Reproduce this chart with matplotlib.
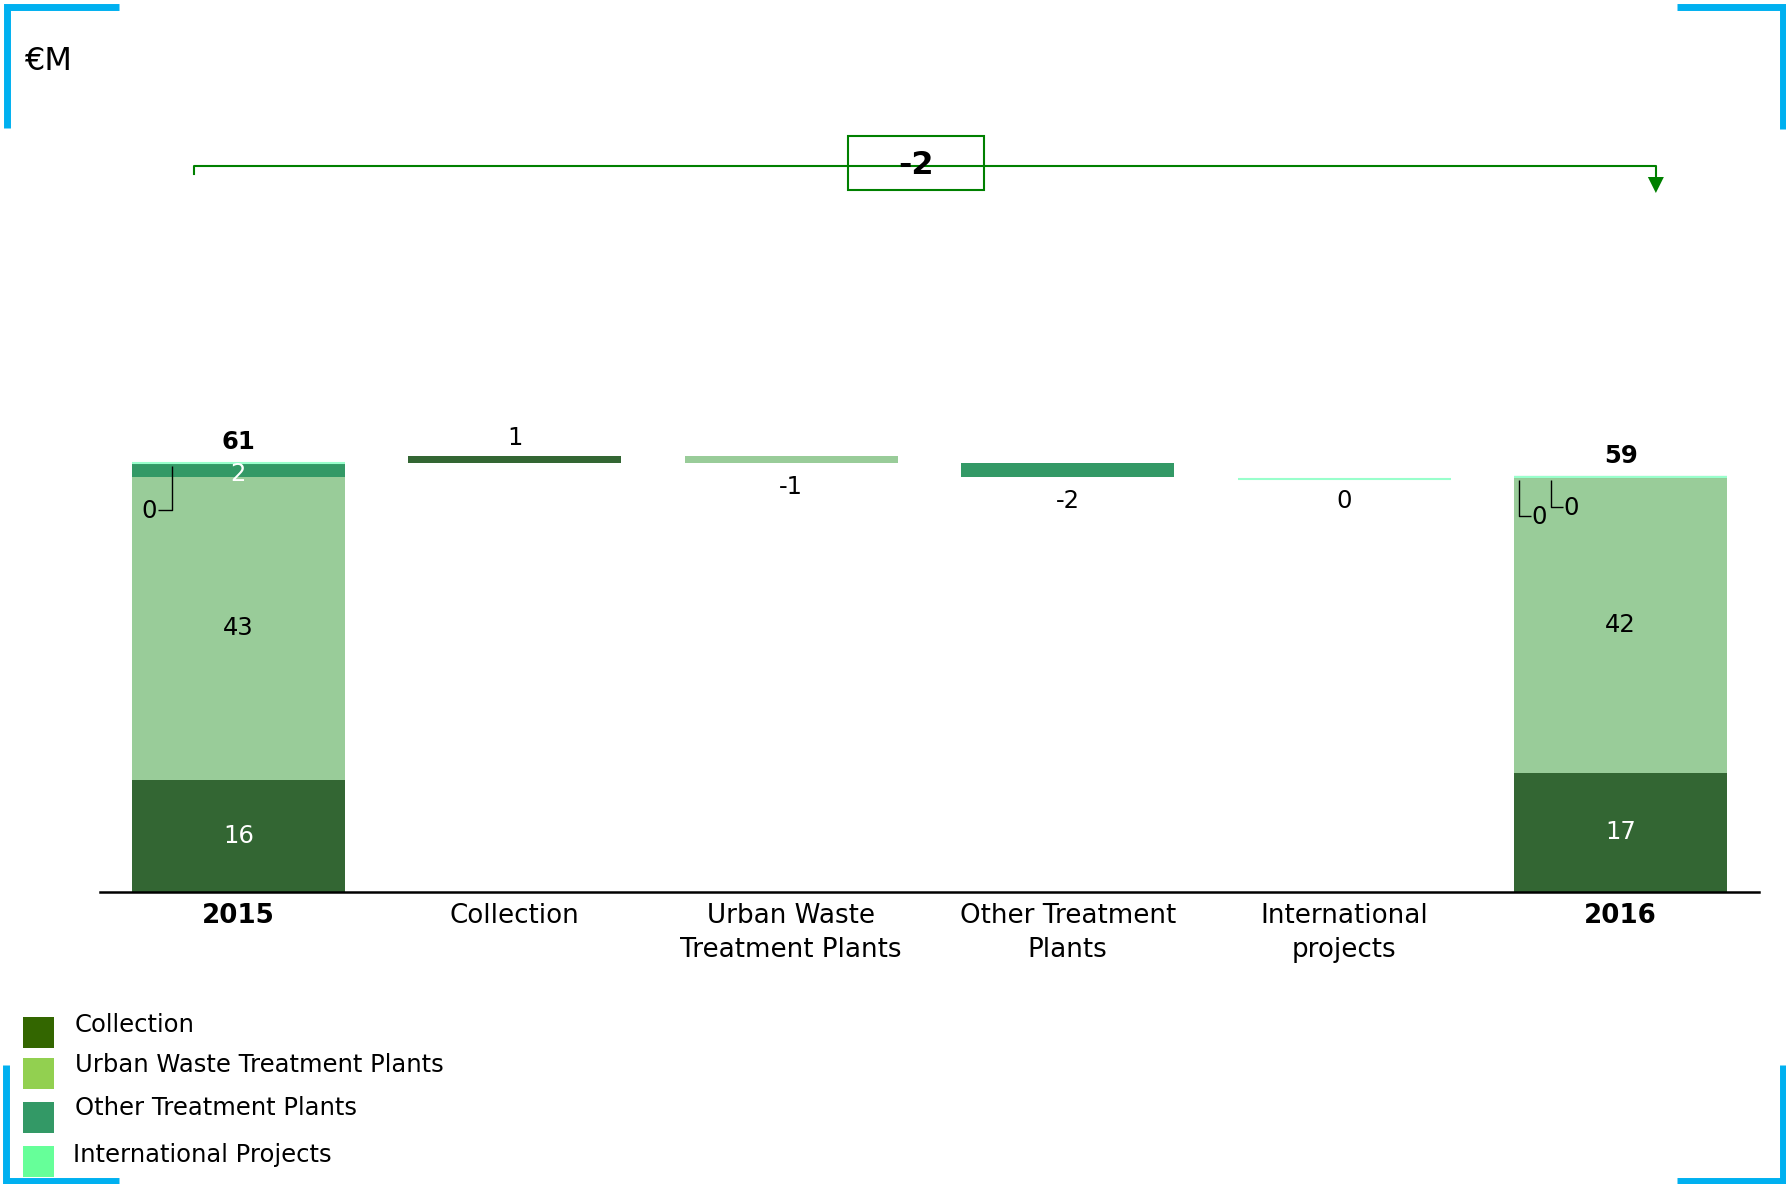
import matplotlib
matplotlib.use("Agg")
import matplotlib.pyplot as plt
import matplotlib.transforms as mtransforms
from matplotlib.lines import Line2D
from matplotlib.patches import Rectangle, Polygon

plt.rcParams["font.family"] = ["DejaVu Sans"]

# EBITDA bridge 2015 -> 2016, €M
categories = ["2015", "Collection", "Urban Waste\nTreatment Plants",
              "Other Treatment\nPlants", "International\nprojects", "2016"]
segments = ["Collection", "Urban Waste Treatment Plants",
            "Other Treatment Plants", "International Projects"]
values_2015 = [16, 43, 2, 0]
values_2016 = [17, 42, 0, 0]
deltas = [1, -1, -2, 0]

bar_colors = ["#336633", "#99CC99", "#339966", "#99FFCC"]
legend_colors = ["#336600", "#92D050", "#339966", "#66FF99"]
seg_text_colors = ["white", "black", "white", None]

W, H = 1786, 1184
fig = plt.figure(figsize=(W / 100, H / 100), dpi=100)
ax = fig.add_axes([100 / W, (H - 892) / H, 1659 / W, 492 / H])
ax.set_xlim(-0.5, 5.5)
ax.set_ylim(0, 70)

FS = 17.5      # data labels / legend
TFS = 18.8     # category labels
bw = 0.77
px_x = 1 / 276.6   # data units per pixel, x
px_y = 1 / 7.03    # data units per pixel, y


def stacked(x, vals, zero_offsets):
    bottom = 0
    zi = 0
    for i, v in enumerate(vals):
        ax.bar(x, v, bw, bottom=bottom, color=bar_colors[i],
               edgecolor=bar_colors[i], linewidth=1.5 if v == 0 else 0)
        if v > 0 and seg_text_colors[i]:
            ax.text(x, bottom + v / 2 - 0.5 * (i == 2), str(v), ha="center", va="center",
                    fontsize=FS, color=seg_text_colors[i])
        elif v == 0:
            # leader line for the empty segment
            vx, drop, hx, tx = zero_offsets[zi]
            zi += 1
            top = bottom - 0.4
            ax.plot([x + vx * px_x, x + vx * px_x, x + hx * px_x],
                    [top, top - drop * px_y, top - drop * px_y],
                    color="black", lw=1, solid_capstyle="butt")
            ax.text(x + tx * px_x, top - (drop + 1) * px_y, str(v),
                    ha="center", va="center", fontsize=FS)
        bottom += v
    ax.text(x, bottom + 21 * px_y, str(sum(vals)), ha="center", va="center",
            fontsize=FS, fontweight="bold")
    return bottom


total_2015 = stacked(0, values_2015, [(-66, 44, -80, -89)])

# running waterfall
level = total_2015
for k, d in enumerate(deltas):
    x = k + 1
    if d == 0:
        ax.plot([x - bw / 2, x + bw / 2], [level - 0.2, level - 0.2],
                color=bar_colors[k], lw=1.5, solid_capstyle="butt")
        ax.text(x, level - 24 * px_y, str(d), ha="center", va="center", fontsize=FS)
    else:
        ax.bar(x, d, bw, bottom=level, color=bar_colors[k], linewidth=0)
        if d > 0:
            ax.text(x, level + d + 18 * px_y, str(d), ha="center", va="center", fontsize=FS)
        else:
            ax.text(x, level + d - 24 * px_y, str(d), ha="center", va="center", fontsize=FS)
    level += d

total_2016 = stacked(5, values_2016, [(-70, 27, -58, -50), (-102, 36, -90, -82)])

ax.set_xticks(range(len(categories)))
ax.set_xticklabels(categories, fontsize=TFS, linespacing=1.38)
for i in (0, 5):
    ax.get_xticklabels()[i].set_fontweight("bold")
ax.tick_params(axis="x", length=0, pad=8)
ax.set_yticks([])
for s in ("top", "left", "right"):
    ax.spines[s].set_visible(False)
ax.spines["bottom"].set_linewidth(1.8)


def fx(p):
    return p / W


def fy(p):
    return 1 - p / H


# change bracket over the chart
green = "#008000"
bt = mtransforms.blended_transform_factory(ax.transData, fig.transFigure)
xl, xr = 0 - 0.16, 5 + 0.127
yb = fy(166)
fig.add_artist(Line2D([xl, xl, xr, xr], [fy(174), yb, yb, fy(177)],
                      transform=bt, color=green, lw=1.5))
fig.add_artist(Polygon([[xr - 8 * px_x, fy(177)], [xr + 8 * px_x, fy(177)], [xr, fy(193)]],
                       closed=True, transform=bt, color=green, lw=0))
xm = (xl + xr) / 2 - 9 * px_x
fig.add_artist(Rectangle((xm - 68 * px_x, fy(190)), 136 * px_x, 54 / H, transform=bt,
                         facecolor="white", edgecolor=green, lw=1.5))
fig.text(xm, fy(165), str(total_2016 - total_2015), transform=bt, fontsize=23,
         fontweight="bold", ha="center", va="center")

fig.text(fx(24), fy(61), "€M", fontsize=23, ha="left", va="center")

# legend
rows = [1033, 1074, 1118, 1162]
text_y = [1025, 1065, 1108, 1155]
text_x = [75, 75, 75, 73]
for i, name in enumerate(segments):
    fig.add_artist(Rectangle((fx(23), fy(rows[i] + 15)), 31 / W, 31 / H,
                             transform=fig.transFigure, color=legend_colors[i], lw=0))
    fig.text(fx(text_x[i]), fy(text_y[i]), name, fontsize=FS, ha="left", va="center")

# corner marks
blue = "#00B0F0"
corners = [
    ([7, 7, 119], [128, 7, 7]),
    ([1677, 1783, 1783], [7, 7, 129]),
    ([6, 6, 119], [1065, 1181, 1181]),
    ([1677, 1783, 1783], [1181, 1181, 1065]),
]
for xs, ys in corners:
    fig.add_artist(Line2D([fx(v) for v in xs], [fy(v) for v in ys],
                          transform=fig.transFigure, color=blue, lw=5,
                          solid_joinstyle="miter", solid_capstyle="butt"))

fig.savefig("out.png", dpi=100)
